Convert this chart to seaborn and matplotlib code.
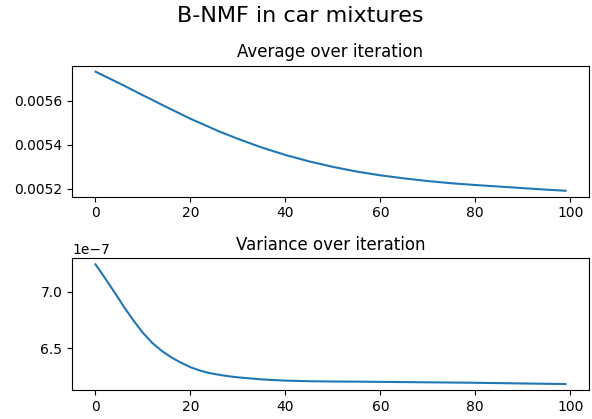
import matplotlib
matplotlib.use("Agg")
import matplotlib.pyplot as plt
import seaborn as sns
import pandas as pd

# values
iterations = [0, 2, 4, 6, 8, 10, 12, 14, 16, 18, 20, 22, 24, 26, 28, 30,
              35, 40, 45, 50, 55, 60, 65, 70, 75, 80, 85, 90, 95, 99]
average = [0.005731, 0.005710, 0.005689, 0.005668, 0.005646, 0.005624,
           0.005603, 0.005581, 0.005560, 0.005539, 0.005518, 0.005499,
           0.005480, 0.005461, 0.005444, 0.005427, 0.005388, 0.005354,
           0.005325, 0.005300, 0.005279, 0.005262, 0.005248, 0.005236,
           0.005226, 0.005218, 0.005211, 0.005204, 0.005197, 0.005192]
variance_e7 = [7.242, 7.120, 6.995, 6.865, 6.745, 6.635, 6.545, 6.475,
               6.418, 6.372, 6.332, 6.302, 6.280, 6.265, 6.252, 6.242,
               6.224, 6.213, 6.208, 6.205, 6.204, 6.202, 6.200, 6.198,
               6.196, 6.194, 6.191, 6.188, 6.185, 6.183]
variance = [v * 1e-7 for v in variance_e7]

df = pd.DataFrame({"iteration": iterations, "average": average, "variance": variance})

fig = plt.figure(figsize=(5.92, 4.19), dpi=100)
ax1 = fig.add_axes([0.1216, 0.5305, 0.8733, 0.3127])
ax2 = fig.add_axes([0.1216, 0.0692, 0.8733, 0.3143])

sns.lineplot(data=df, x="iteration", y="average", ax=ax1, color="#1f77b4", linewidth=1.5)
sns.lineplot(data=df, x="iteration", y="variance", ax=ax2, color="#1f77b4", linewidth=1.5)

for ax, title in [(ax1, "Average over iteration"), (ax2, "Variance over iteration")]:
    ax.set_title(title, fontsize=12)
    ax.set_xlabel(None)
    ax.set_ylabel(None)
    ax.set_xticks([0, 20, 40, 60, 80, 100])
    ax.tick_params(labelsize=10)

ax1.set_yticks([0.0052, 0.0054, 0.0056])
ax2.set_yticks([6.5e-7, 7.0e-7])

fig.suptitle("B-NMF in car mixtures", fontsize=16, x=0.507, y=0.985)

fig.savefig("out.png", dpi=100)
